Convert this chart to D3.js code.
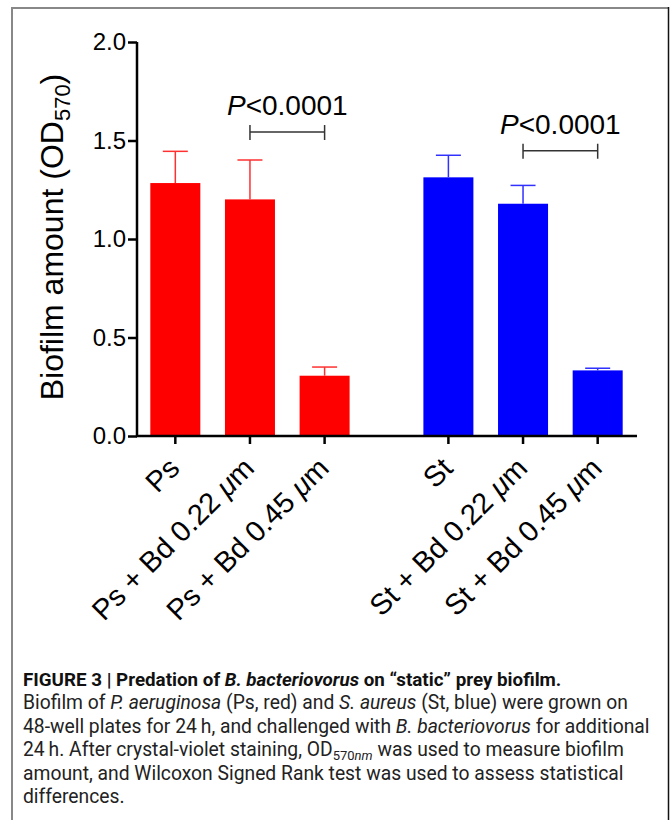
<!DOCTYPE html>
<html>
<head>
<meta charset="utf-8">
<script src="https://cdn.jsdelivr.net/npm/d3@7"></script>
<style>
  body { margin: 0; background: #fff; }
  svg { display: block; }
  .tick text { font-family: "Liberation Sans", Arial, sans-serif; }
  .caption { font-family: Roboto, "Liberation Sans", sans-serif; font-size: 19.3px; fill: #222; }
</style>
</head>
<body>
<svg id="chart" width="672" height="820"></svg>
<script>
// values
const categories = ["Ps", "Ps + Bd 0.22 μm", "Ps + Bd 0.45 μm", "St", "St + Bd 0.22 μm", "St + Bd 0.45 μm"];
const groups = ["Ps", "Ps", "Ps", "St", "St", "St"];
const means = [1.284, 1.201, 0.306, 1.313, 1.179, 0.333];
const errors = [0.161, 0.200, 0.044, 0.112, 0.093, 0.011];
const yTicks = [0, 0.5, 1.0, 1.5, 2.0];
const groupColors = { Ps: "#ff0000", St: "#0000ff" };
const errColors = { Ps: "#ff3030", St: "#3030ff" };
const compFrom = [1, 4];
const compTo = [2, 5];
const compLevel = [1.543, 1.448];
const compLabel = ["<0.0001", "<0.0001"];

const svg = d3.select("#chart");

// frame around the figure
svg.append("line").attr("x1", 12).attr("x2", 669).attr("y1", 8).attr("y2", 8)
  .attr("stroke", "#888").attr("stroke-width", 2);
svg.append("line").attr("x1", 12).attr("x2", 12).attr("y1", 7).attr("y2", 820)
  .attr("stroke", "#888").attr("stroke-width", 2);
svg.append("line").attr("x1", 668.5).attr("x2", 668.5).attr("y1", 7).attr("y2", 820)
  .attr("stroke", "#111").attr("stroke-width", 1.5);

const plotL = 137, plotR = 637, plotT = 42, plotB = 436;

const y = d3.scaleLinear().domain([0, 2]).range([plotB, plotT]);

// outer band per organism, inner band per treatment
const groupNames = ["Ps", "St"];
const x0 = d3.scaleBand().domain(groupNames).range([plotL + 1, plotR - 2]).paddingInner(0.18).paddingOuter(0);
const x1 = d3.scaleBand().domain([0, 1, 2]).range([0, x0.bandwidth()]).paddingInner(0.33).paddingOuter(0.165);

const data = categories.map((c, i) => ({
  name: c, group: groups[i], slot: i % 3, mean: means[i], err: errors[i]
}));
const cx = d => x0(d.group) + x1(d.slot) + x1.bandwidth() / 2;

// bars
svg.append("g").selectAll("rect")
  .data(data).enter().append("rect")
  .attr("x", d => x0(d.group) + x1(d.slot))
  .attr("width", x1.bandwidth())
  .attr("y", d => y(d.mean))
  .attr("height", d => y(0) - y(d.mean))
  .attr("fill", d => groupColors[d.group]);

// error bars (upper only)
const eb = svg.append("g").selectAll("g").data(data).enter().append("g")
  .attr("stroke", d => errColors[d.group]).attr("stroke-width", 1.5);
eb.append("line")
  .attr("x1", cx).attr("x2", cx)
  .attr("y1", d => y(d.mean)).attr("y2", d => y(d.mean + d.err));
eb.append("line")
  .attr("x1", d => cx(d) - x1.bandwidth() / 4).attr("x2", d => cx(d) + x1.bandwidth() / 4)
  .attr("y1", d => y(d.mean + d.err)).attr("y2", d => y(d.mean + d.err));

// y axis
const yAxis = svg.append("g").attr("transform", "translate(" + plotL + ",0)")
  .call(d3.axisLeft(y).tickValues(yTicks).tickFormat(d3.format(".1f")).tickSize(9).tickPadding(2));
yAxis.select(".domain").attr("stroke", "#000").attr("stroke-width", 2.5).attr("d", "M0," + plotT + "V" + plotB);
yAxis.selectAll(".tick line").attr("stroke", "#000").attr("stroke-width", 2.5);
yAxis.selectAll(".tick text").attr("font-size", 24).attr("fill", "#000");

// x axis
svg.append("line").attr("x1", plotL - 1).attr("x2", plotR).attr("y1", plotB).attr("y2", plotB)
  .attr("stroke", "#000").attr("stroke-width", 2.5);
svg.append("g").selectAll("line").data(data).enter().append("line")
  .attr("x1", cx).attr("x2", cx).attr("y1", plotB).attr("y2", plotB + 8)
  .attr("stroke", "#000").attr("stroke-width", 2.5);

// x labels, rotated
const xl = svg.append("g").selectAll("text").data(data).enter().append("text")
  .attr("transform", d => "translate(" + (cx(d) + 6) + "," + (plotB + 34) + ") rotate(-45)")
  .attr("text-anchor", "end")
  .attr("font-family", "'Liberation Sans', Arial, sans-serif")
  .attr("font-size", 29)
  .attr("fill", "#000");
xl.each(function(d) {
  const parts = d.name.split("μ");
  const t = d3.select(this);
  t.append("tspan").text(parts[0]);
  if (parts.length > 1) {
    t.append("tspan").attr("font-style", "italic").text("μ");
    t.append("tspan").text(parts[1]);
  }
});

// y label
const yl = svg.append("text")
  .attr("transform", "translate(63," + ((plotT + plotB) / 2 - 2) + ") rotate(-90)")
  .attr("text-anchor", "middle")
  .attr("font-family", "'Liberation Sans', Arial, sans-serif")
  .attr("font-size", 32)
  .attr("fill", "#000");
yl.append("tspan").text("Biofilm amount (OD");
yl.append("tspan").attr("font-size", 22).attr("dy", 7).text("570");
yl.append("tspan").attr("dy", -7).text(")");

// significance brackets
compFrom.forEach((f, i) => {
  const xa = cx(data[f]), xb = cx(data[compTo[i]]), yy = y(compLevel[i]);
  const g = svg.append("g").attr("stroke", "#333").attr("stroke-width", 1.5);
  g.append("line").attr("x1", xa).attr("x2", xb).attr("y1", yy).attr("y2", yy);
  g.append("line").attr("x1", xa).attr("x2", xa).attr("y1", yy - 7).attr("y2", yy + 8);
  g.append("line").attr("x1", xb).attr("x2", xb).attr("y1", yy - 7).attr("y2", yy + 8);
  const t = svg.append("text")
    .attr("x", (xa + xb) / 2).attr("y", yy - 17)
    .attr("text-anchor", "middle")
    .attr("font-family", "'Liberation Sans', Arial, sans-serif")
    .attr("font-size", 28).attr("fill", "#000");
  t.append("tspan").attr("font-style", "italic").text("P");
  t.append("tspan").text(compLabel[i]);
});

// caption
const cap = svg.append("g").attr("class", "caption");
const capX = 23, capY = 686, lh = 23.4;
const l0 = cap.append("text").attr("x", capX).attr("y", capY).attr("font-weight", "bold")
  .attr("font-size", 18.8).attr("fill", "#111");
l0.append("tspan").text("FIGURE 3 | Predation of ");
l0.append("tspan").attr("font-style", "italic").text("B. bacteriovorus");
l0.append("tspan").text(" on \u201cstatic\u201d prey biofilm.");

const l1 = cap.append("text").attr("x", capX).attr("y", capY + lh);
l1.append("tspan").text("Biofilm of ");
l1.append("tspan").attr("font-style", "italic").text("P. aeruginosa");
l1.append("tspan").text(" (Ps, red) and ");
l1.append("tspan").attr("font-style", "italic").text("S. aureus");
l1.append("tspan").text(" (St, blue) were grown on");

const l2 = cap.append("text").attr("x", capX).attr("y", capY + 2 * lh);
l2.append("tspan").text("48-well plates for 24\u2009h, and challenged with ");
l2.append("tspan").attr("font-style", "italic").text("B. bacteriovorus");
l2.append("tspan").text(" for additional");

const l3 = cap.append("text").attr("x", capX).attr("y", capY + 3 * lh);
l3.append("tspan").text("24\u2009h. After crystal-violet staining, OD");
l3.append("tspan").attr("font-size", 13).attr("dy", 4).text("570");
l3.append("tspan").attr("font-size", 13).attr("font-style", "italic").text("nm");
l3.append("tspan").attr("dy", -4).text(" was used to measure biofilm");

cap.append("text").attr("x", capX).attr("y", capY + 4 * lh)
  .text("amount, and Wilcoxon Signed Rank test was used to assess statistical");
cap.append("text").attr("x", capX).attr("y", capY + 5 * lh)
  .text("differences.");
</script>
</body>
</html>
